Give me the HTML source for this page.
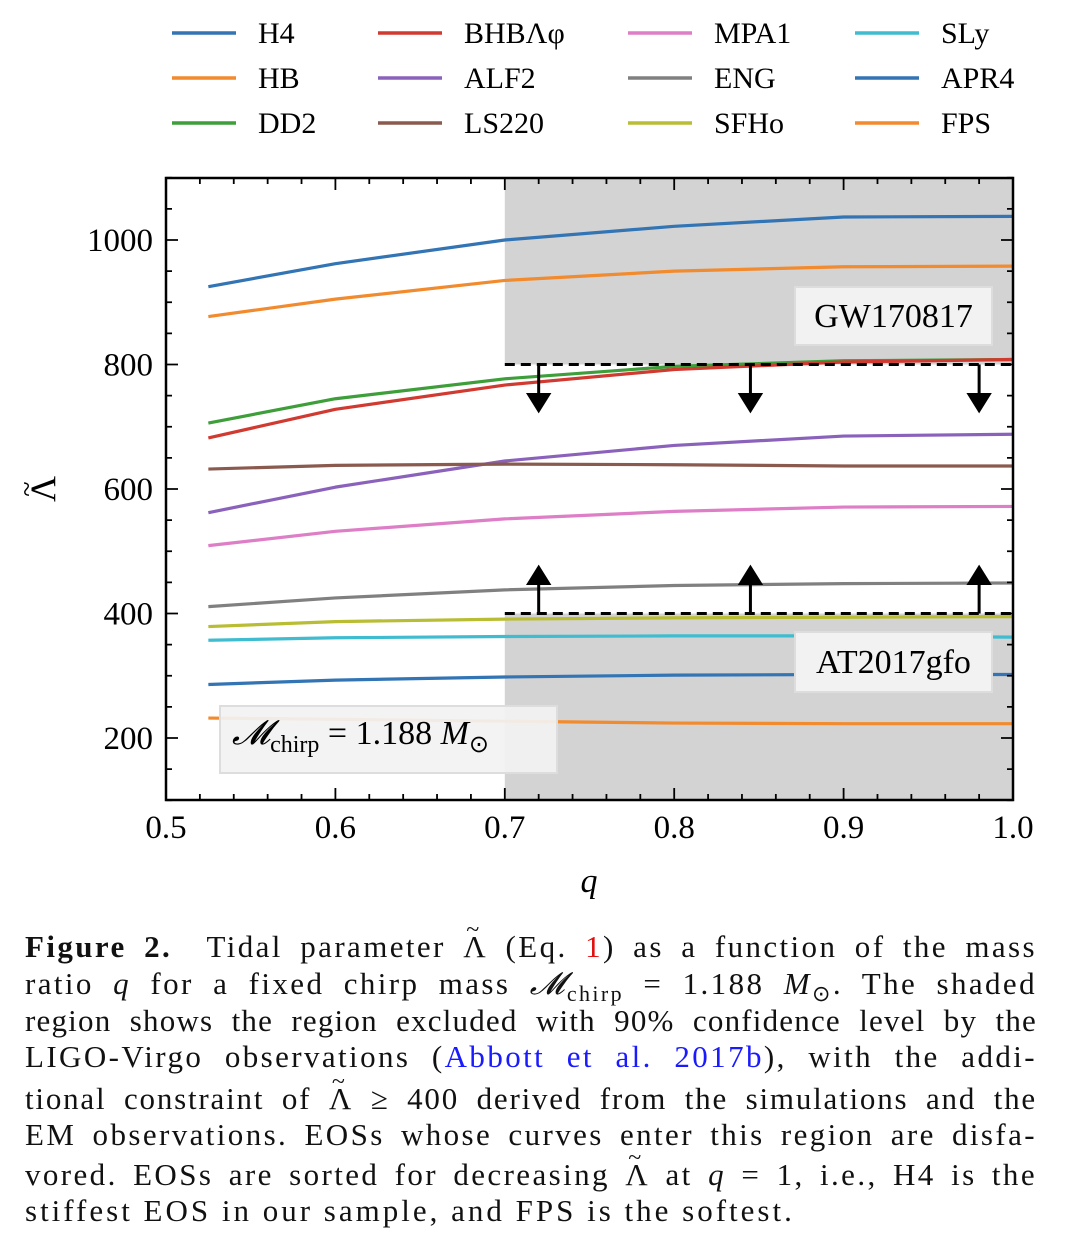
<!DOCTYPE html>
<html><head><meta charset="utf-8">
<style>
body{margin:0;background:#fff;width:1080px;height:1250px;overflow:hidden;font-family:"Liberation Serif",serif}
.ln{position:absolute;left:25px;width:1012px;font-size:31px;letter-spacing:2.4px;line-height:36px;color:#111;text-align:justify;text-align-last:justify;white-space:nowrap}
.ln.last{text-align-last:left}
.b{color:#1a1aff}.r{color:#e01010}
.tl{position:relative;display:inline-block}
.tl::after{content:"~";position:absolute;left:3px;top:-17px;font-size:24px}
sub{font-size:22px;line-height:0}
</style></head><body>
<svg id="chart" width="1080" height="920" style="position:absolute;left:0;top:0" font-family="Liberation Serif, serif"></svg>
<div>
<div class="ln" style="top:929px"><b>Figure 2.</b>&nbsp; Tidal parameter <span class="tl">Λ</span> (Eq. <span class="r">1</span>) as a function of the mass</div>
<div class="ln" style="top:966px">ratio <i>q</i> for a fixed chirp mass <i>𝓜</i><sub>chirp</sub> = 1.188 <i>M</i><sub>⊙</sub>. The shaded</div>
<div class="ln" style="top:1003px;letter-spacing:1.2px">region shows the region excluded with 90% confidence level by the</div>
<div class="ln" style="top:1039px">LIGO-Virgo observations (<span class="b">Abbott et al. 2017b</span>), with the addi-</div>
<div class="ln" style="top:1081px;letter-spacing:1.8px">tional constraint of <span class="tl">Λ</span> ≥ 400 derived from the simulations and the</div>
<div class="ln" style="top:1117px">EM observations. EOSs whose curves enter this region are disfa-</div>
<div class="ln" style="top:1157px">vored. EOSs are sorted for decreasing <span class="tl">Λ</span> at <i>q</i> = 1, i.e., H4 is the</div>
<div class="ln last" style="top:1193px;letter-spacing:3px">stiffest EOS in our sample, and FPS is the softest.</div>
</div>
<script>
const qs=[0.525,0.6,0.7,0.8,0.9,1.0];
const names=["H4","HB","DD2","BHBΛφ","ALF2","LS220","MPA1","ENG","SFHo","SLy","APR4","FPS"];
const colors=["#3274b4","#f28a2e","#3d9e3a","#d03a30","#8b62bb","#8a5a4f","#dd7ec6","#808080","#b8bd33","#3fbccf","#3274b4","#f28a2e"];
const H4=[925,962,1000,1022,1037,1038];
const HB=[877,905,935,950,957,958];
const DD2=[706,745,777,797,806,808];
const BHB=[682,728,767,792,804,808];
const ALF2=[562,603,645,670,685,688];
const LS220=[632,638,640,639,637,637];
const MPA1=[509,532,552,564,571,572];
const ENG=[411,425,438,445,448,449];
const SFHo=[379,387,391,393,394,395];
const SLy=[357,361,363,364,364,362];
const APR4=[286,293,298,301,302,302];
const FPS=[232,230,227,224,223,223];
const series=[H4,HB,DD2,BHB,ALF2,LS220,MPA1,ENG,SFHo,SLy,APR4,FPS];
const xTicks=[0.5,0.6,0.7,0.8,0.9,1.0];
const yTicks=[200,400,600,800,1000];
const arrowQ=[0.72,0.845,0.98];
const X=q=>166+(q-0.5)*1694, Y=v=>240-(v-1000)*0.6225;
const s=document.getElementById('chart');const NS="http://www.w3.org/2000/svg";
function el(t,a,txt){const e=document.createElementNS(NS,t);for(const k in a)e.setAttribute(k,a[k]);if(txt!=null)e.textContent=txt;s.appendChild(e);return e;}
let e;
e=el('rect',{x:X(0.7),y:Y(1100),width:X(1)-X(0.7),height:Y(800)-Y(1100),fill:'#d3d3d3'});

e=el('rect',{x:X(0.7),y:Y(400),width:X(1)-X(0.7),height:Y(100)-Y(400),fill:'#d3d3d3'});

series.forEach((d,i)=>{
 const pts=d.map((v,j)=>X(qs[j])+','+Y(v)).join(' ');
 e=el('polyline',{points:pts,fill:'none',stroke:colors[i],'stroke-width':3.2,'stroke-linejoin':'round'});
 
});
[800,400].forEach(v=>{e=el('line',{x1:X(0.7),x2:X(1),y1:Y(v),y2:Y(v),stroke:'#000','stroke-width':3,'stroke-dasharray':'10,6'});
 });
arrowQ.forEach(q=>{const x=X(q);
 e=el('path',{d:`M${x},${Y(800)} V${Y(800)+38} M${x-10},${Y(800)+30} L${x},${Y(800)+46} L${x+10},${Y(800)+30}Z`,stroke:'#000','stroke-width':3,fill:'#000'});
 
 e=el('path',{d:`M${x},${Y(400)} V${Y(400)-38} M${x-10},${Y(400)-30} L${x},${Y(400)-46} L${x+10},${Y(400)-30}Z`,stroke:'#000','stroke-width':3,fill:'#000'});
 });
function box(x,y,w,h,t,n){e=el('rect',{x,y,width:w,height:h,fill:'#f2f2f2',stroke:'#ddd','stroke-width':2});
 
 e=el('text',{x:x+w/2,y:y+h/2+11,'text-anchor':'middle','font-size':34},t);
 }
box(795,287,197,58,'GW170817','gw170817');box(795,632,197,60,'AT2017gfo','at2017gfo');
e=el('rect',{x:220,y:706,width:337,height:67,fill:'#f2f2f2',stroke:'#ddd','stroke-width':2,'fill-opacity':0.93});

e=el('text',{x:232,y:744,'font-size':34});e.innerHTML='<tspan font-style="italic">𝓜</tspan><tspan font-size="24" dy="8">chirp</tspan><tspan dy="-8"> = 1.188 </tspan><tspan font-style="italic">M</tspan><tspan font-size="24" dy="8">⊙</tspan>';

e=el('rect',{x:166,y:178,width:847,height:622,fill:'none',stroke:'#000','stroke-width':2.5});

for(let q=0.5;q<=1.0001;q+=0.02){const x=X(q);const maj=Math.abs(q*10-Math.round(q*10))<1e-6;const L=maj?12:6;
 e=el('path',{d:`M${x},800 v${-L} M${x},178 v${L}`,stroke:'#000','stroke-width':1.8});}
for(let v=100;v<=1100;v+=50){const y=Y(v);const maj=v%200==0;const L=maj?12:6;
 e=el('path',{d:`M166,${y} h${L} M1013,${y} h${-L}`,stroke:'#000','stroke-width':1.8});}
xTicks.forEach(q=>{e=el('text',{x:X(q),y:838,'text-anchor':'middle','font-size':33},q.toFixed(1));
 });
yTicks.forEach(v=>{e=el('text',{x:153,y:Y(v)+11,'text-anchor':'end','font-size':33},v);
 });
e=el('text',{x:589,y:892,'text-anchor':'middle','font-size':34,'font-style':'italic'},'q');

e=el('text',{x:0,y:0,'text-anchor':'middle','font-size':36,transform:'translate(55,489) rotate(-90)'},'Λ');

e=el('text',{x:0,y:0,'text-anchor':'middle','font-size':28,transform:'translate(36,489) rotate(-90)'},'~');

const lx=[172,378,628,855];
names.forEach((n,i)=>{const c=Math.floor(i/3),r=i%3,y=33+r*45;
 e=el('line',{x1:lx[c],x2:lx[c]+64,y1:y,y2:y,stroke:colors[i],'stroke-width':3.5});
 
 e=el('text',{x:lx[c]+86,y:y+10,'font-size':30},n);
 });
</script>
</body></html>
